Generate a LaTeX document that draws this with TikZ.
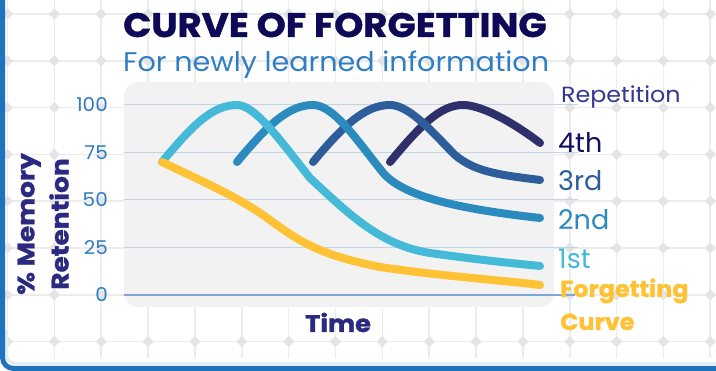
\documentclass[tikz,border=0pt]{standalone}
\usepackage{fontspec}
\setmainfont{Poppins}[BoldFeatures={FakeBold=1.2}]
\definecolor{titlec}{HTML}{0E0A58}
\definecolor{subc}{HTML}{2F7EC5}
\definecolor{tickc}{HTML}{2E7CC2}
\definecolor{axisc}{HTML}{2B2A80}
\definecolor{repc}{HTML}{36378F}
\definecolor{fourthtxt}{HTML}{120E5E}
\definecolor{fourthc}{HTML}{2F306B}
\definecolor{thirdc}{HTML}{2D5E9B}
\definecolor{secondc}{HTML}{2B8BBE}
\definecolor{firstc}{HTML}{44B9D8}
\definecolor{yellowc}{HTML}{FEC234}
\definecolor{panelc}{HTML}{F2F2F2}
\definecolor{gridc}{HTML}{ECECEC}
\definecolor{diamc}{HTML}{E4E4E4}
\definecolor{hlinec}{HTML}{BDD4EA}
\definecolor{zeroc}{HTML}{7AA7D6}
\definecolor{framec}{HTML}{1F73BE}
\definecolor{lframec}{HTML}{E2EDF6}
\tikzset{
  curve/.style={line width=8pt, line cap=round, line join=round},
  ticklbl/.style={anchor=east, inner sep=0pt, text=tickc, font=\fontsize{19}{19}\selectfont},
  replbl/.style={anchor=base west, inner sep=0pt, font=\fontsize{27}{27}\selectfont},
}
\begin{document}
\begin{tikzpicture}[x=1pt,y=-1pt]
\useasboundingbox (0,0) rectangle (716,371);
\fill[white] (0,0) rectangle (716,371);
% background grid
\foreach \i in {0,...,15}{
  \draw[gridc, line width=1.6pt] ({7.5+\i*46.85},0) -- ({7.5+\i*46.85},358);
}
\foreach \j in {0,...,7}{
  \draw[gridc, line width=1.6pt] (7.5,{14+\j*46.8}) -- (716,{14+\j*46.8});
}
\foreach \i in {0,...,15}{
  \foreach \j in {0,...,7}{
    \fill[diamc] ({7.5+\i*46.85},{14+\j*46.8}) +(-5.5,0) -- +(0,-5.5) -- +(5.5,0) -- +(0,5.5) -- cycle;
  }
}
% frame
\draw[lframec, line width=3pt, rounded corners=9pt] (6.5,330) -- (6.5,363.5) -- (730,363.5);
\draw[framec, line width=5pt, rounded corners=11pt] (2.5,-10) -- (2.5,368.5) -- (730,368.5);
% panel
\fill[panelc, rounded corners=14pt] (124,82) rectangle (554,307);
\foreach \yy in {105,152.5,200,247.5}{
  \draw[hlinec, line width=1pt] (124,\yy) -- (578,\yy);
}
\draw[zeroc, line width=1.2pt] (124,295) -- (575,295);
% tick labels
\node[ticklbl] (t100) at (108,105) {\scalebox{1.05}[1]{100}};
\node[ticklbl] (t75) at (108,152.5) {\scalebox{1.05}[1]{75}};
\node[ticklbl] (t50) at (108,200) {\scalebox{1.05}[1]{50}};
\node[ticklbl] (t25) at (108,247.5) {\scalebox{1.05}[1]{25}};
\node[ticklbl] (t0) at (108,295) {\scalebox{1.05}[1]{0}};
% curves
\draw[curve, fourthc] (390,162) .. controls (420,126) and (440,105) .. (463,105)
  .. controls (480,105) and (510,120) .. (540,143);
\draw[curve, thirdc] (313,162) .. controls (343,126) and (365,105) .. (390,105)
  .. controls (410,105) and (435,135) .. (455,155)
  .. controls (475,172) and (500,175) .. (540,180);
\draw[curve, secondc] (237,162) .. controls (267,126) and (288,105) .. (313,105)
  .. controls (335,105) and (360,145) .. (385,175)
  .. controls (405,195) and (450,208) .. (540,218);
\draw[curve, firstc] (162,162) .. controls (192,126) and (212,105) .. (237,105)
  .. controls (255,105) and (280,140) .. (310,178)
  .. controls (350,215) and (380,245) .. (430,253)
  .. controls (480,260) and (510,263) .. (540,266);
\draw[curve, yellowc] (162,162) .. controls (210,185) and (240,198) .. (270,220)
  .. controls (300,242) and (320,255) .. (380,267)
  .. controls (440,276) and (500,280) .. (540,285);
% titles
\node[anchor=base west, inner sep=0pt, text=titlec, font=\fontsize{34}{34}\selectfont\bfseries] (title) at (123,37) {\scalebox{1.09}[1]{CURVE OF FORGETTING}};
\node[anchor=base west, inner sep=0pt, text=subc, font=\fontsize{27}{27}\selectfont] (subtitle) at (123,72) {\scalebox{1.06}[1]{For newly learned information}};
% axis titles
\node[rotate=90, inner sep=0pt, text=axisc, font=\fontsize{24}{24}\selectfont\bfseries] (ylab1) at (29,224) {\scalebox{1.1}[1]{\% Memory}};
\node[rotate=90, inner sep=0pt, text=axisc, font=\fontsize{24}{24}\selectfont\bfseries] (ylab2) at (59,224) {\scalebox{1.1}[1]{Retention}};
\node[anchor=base west, inner sep=0pt, text=axisc, font=\fontsize{24}{24}\selectfont\bfseries] (xlab) at (305,332) {\scalebox{1.07}[1]{Time}};
% right labels
\node[anchor=base west, inner sep=0pt, text=repc, font=\fontsize{22}{22}\selectfont] (rep) at (561,103) {\scalebox{1.08}[1]{Repetition}};
\node[replbl, text=fourthtxt] (l4) at (558,153) {4th};
\node[replbl, text=thirdc] (l3) at (558,191) {3rd};
\node[replbl, text=secondc] (l2) at (558,230) {2nd};
\node[replbl, text=firstc] (l1) at (558,269) {1st};
\node[anchor=base west, inner sep=0pt, text=yellowc, font=\fontsize{23}{23}\selectfont\bfseries] (lf1) at (560,297) {\scalebox{1.04}[1]{Forgetting}};
\node[anchor=base west, inner sep=0pt, text=yellowc, font=\fontsize{23}{23}\selectfont\bfseries] (lf2) at (560,330) {\scalebox{1.04}[1]{Curve}};
\end{tikzpicture}
\end{document}
